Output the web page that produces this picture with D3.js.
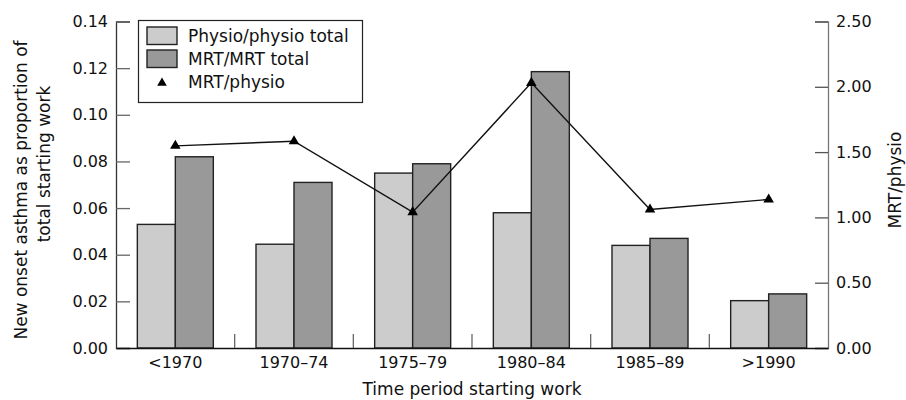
<!DOCTYPE html>
<html>
<head>
<meta charset="utf-8">
<script src="https://cdn.jsdelivr.net/npm/d3@7"></script>
<style>
  body { margin: 0; background: #fff; }
  svg { display: block; font-family: "DejaVu Sans", sans-serif; }
</style>
</head>
<body>
<svg id="chart" width="906" height="400"></svg>
<script>
const periods = ['<1970', '1970\u201374', '1975\u201379', '1980\u201384', '1985\u201389', '>1990'];
const physio = [0.053, 0.0445, 0.075, 0.058, 0.044, 0.0203];
const mrt = [0.082, 0.071, 0.079, 0.1185, 0.047, 0.0232];
const ratio = [1.548, 1.583, 1.04, 2.03, 1.06, 1.137];
const leftTicks = [0, 0.02, 0.04, 0.06, 0.08, 0.10, 0.12, 0.14];
const rightTicks = [0, 0.5, 1.0, 1.5, 2.0, 2.5];

main();

function main () {
  const svg = d3.select('#chart');
  const L = 116, R = 828, B = 348, T = 21.5;

  const x = d3.scaleBand().domain(periods).range([L, R]);
  const sub = d3.scaleBand().domain(['physio', 'mrt']).range([0, 76]);
  const yL = d3.scaleLinear().domain([0, 0.14]).range([B, T]);
  const yR = d3.scaleLinear().domain([0, 2.5]).range([B, T]);

  drawBars(svg, x, sub, yL);
  drawAxes(svg, x, yL, yR, L, R, B);
  drawLine(svg, x, yR);
  drawLegend(svg);
}

function drawBars (svg, x, sub, y) {
  const off = (x.bandwidth() - 76) / 2;
  const series = [['physio', physio, '#cccccc'], ['mrt', mrt, '#999999']];
  for (const [key, vals, color] of series) {
    svg.append('g').selectAll('rect').data(periods).join('rect')
      .attr('x', (d) => x(d) + off + sub(key))
      .attr('y', (d, i) => y(vals[i]))
      .attr('width', sub.bandwidth())
      .attr('height', (d, i) => y(0) - y(vals[i]))
      .attr('fill', color)
      .attr('stroke', '#222')
      .attr('stroke-width', 1.4);
  }
}

function drawAxes (svg, x, yL, yR, L, R, B) {
  // left axis, ticks pointing in
  const gl = svg.append('g').attr('transform', `translate(${L},0)`)
    .call(d3.axisLeft(yL).tickValues(leftTicks).tickSize(-14).tickPadding(8).tickFormat(d3.format('.2f')));
  gl.select('.domain').attr('stroke', '#333').attr('stroke-width', 1.3);
  gl.selectAll('.tick line').attr('stroke', '#666').attr('stroke-width', 1.3);
  gl.selectAll('text').attr('font-size', 16).attr('fill', '#111').attr('font-family', 'DejaVu Sans');

  // right axis
  const gr = svg.append('g').attr('transform', `translate(${R},0)`)
    .call(d3.axisRight(yR).tickValues(rightTicks).tickSize(-13).tickPadding(8).tickFormat(d3.format('.2f')));
  gr.select('.domain').attr('stroke', '#777').attr('stroke-width', 1.3);
  gr.selectAll('.tick line').attr('stroke', '#555').attr('stroke-width', 1.3);
  gr.selectAll('text').attr('font-size', 16).attr('fill', '#111').attr('font-family', 'DejaVu Sans');

  // bottom axis
  const gb = svg.append('g').attr('transform', `translate(0,${B})`)
    .call(d3.axisBottom(x).tickSize(0).tickPadding(9));
  gb.select('.domain').attr('stroke', '#111').attr('stroke-width', 1.3);
  gb.selectAll('text').attr('font-size', 16).attr('fill', '#111').attr('font-family', 'DejaVu Sans');

  // group dividers
  svg.append('g').selectAll('line').data(periods.slice(1)).join('line')
    .attr('x1', (d) => x(d)).attr('x2', (d) => x(d))
    .attr('y1', B).attr('y2', B - 14)
    .attr('stroke', '#666').attr('stroke-width', 1.3);

  svg.append('text').text('Time period starting work')
    .attr('x', (L + R) / 2).attr('y', 395)
    .attr('text-anchor', 'middle').attr('font-size', 17).attr('fill', '#111');

  svg.append('text').text('New onset asthma as proportion of')
    .attr('transform', 'translate(27,190) rotate(-90)')
    .attr('text-anchor', 'middle').attr('font-size', 17).attr('fill', '#111');
  svg.append('text').text('total starting work')
    .attr('transform', 'translate(50,164) rotate(-90)')
    .attr('text-anchor', 'middle').attr('font-size', 17).attr('fill', '#111');

  svg.append('text').text('MRT/physio')
    .attr('transform', 'translate(901,180) rotate(-90)')
    .attr('text-anchor', 'middle').attr('font-size', 17).attr('fill', '#111');
}

function drawLine (svg, x, y) {
  const cx = (d) => x(d) + x.bandwidth() / 2;
  const line = d3.line()
    .x((d) => cx(d))
    .y((d, i) => y(ratio[i]));
  svg.append('path')
    .attr('d', line(periods))
    .attr('fill', 'none')
    .attr('stroke', '#111')
    .attr('stroke-width', 1.4);
  svg.append('g').selectAll('path').data(periods).join('path')
    .attr('d', d3.symbol(d3.symbolTriangle, 48))
    .attr('transform', (d, i) => `translate(${cx(d)},${y(ratio[i])})`)
    .attr('fill', '#000');
}

function drawLegend (svg) {
  const g = svg.append('g');
  g.append('rect')
    .attr('x', 138.5).attr('y', 20.5).attr('width', 224).attr('height', 82)
    .attr('fill', '#fff').attr('stroke', '#222').attr('stroke-width', 1.2);
  const items = [['Physio/physio total', '#cccccc'], ['MRT/MRT total', '#999999'], ['MRT/physio', null]];
  items.forEach(([label, color], i) => {
    const cy = 35.5 + i * 23;
    if (color) {
      g.append('rect')
        .attr('x', 147).attr('y', cy - 8.5).attr('width', 30).attr('height', 17.5)
        .attr('fill', color).attr('stroke', '#222').attr('stroke-width', 1.4);
    } else {
      g.append('path')
        .attr('d', d3.symbol(d3.symbolTriangle, 40))
        .attr('transform', `translate(162,${cy + 1.5})`)
        .attr('fill', '#000');
    }
    g.append('text').text(label)
      .attr('x', 188).attr('y', cy + 6.5)
      .attr('font-size', 17).attr('fill', '#111');
  });
}
</script>
</body>
</html>
